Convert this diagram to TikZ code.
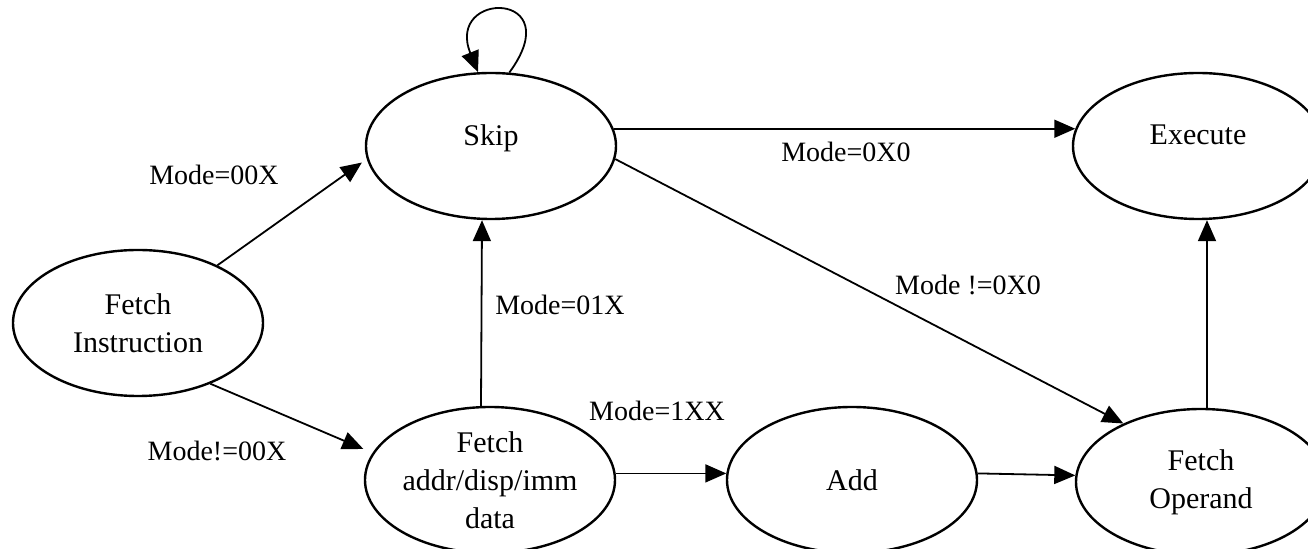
\documentclass[tikz,border=0pt]{standalone}
\usepackage{fontspec}
\setmainfont{Liberation Serif}
\usetikzlibrary{shapes.geometric}
\usetikzlibrary{arrows.meta}

\begin{document}
\begin{tikzpicture}[x=0.5pt, y=-0.5pt,
    state/.style={ellipse, draw=black, line width=1.2pt, minimum width=125pt, minimum height=73pt, inner sep=0pt, align=center, font=\fontsize{15}{19}\selectfont},
    raised/.style={text depth=11pt},
    cond/.style={font=\fontsize{14}{17}\selectfont},
    arr/.style={-{Triangle[length=10.5pt, width=9pt]}, line width=0.9pt}]

    \useasboundingbox (0,0) rectangle (1308,549);

    \node[state] at (138, 323) (fetchins) {Fetch\\Instruction};
    \node[state, raised] at (491, 146) (skip) {Skip};
    \node[state, raised] at (1198, 146) (execute) {Execute};
    \node[state] at (490, 480) (fetchaddr) {Fetch\\addr/disp/imm\\data};
    \node[state] at (852, 480) (add) {Add};
    \node[state] at (1201, 482) (fetchop) {Fetch\\Operand};

    \draw (fetchins.36) edge[arr, shorten >=3pt] (skip.186);
    \draw (fetchins.-40) edge[arr, shorten >=5pt] (fetchaddr.167);
    \draw ([xshift=-4.5pt]fetchaddr.north) edge[arr] ([xshift=-4.5pt]skip.south);
    \draw (skip.8) edge[arr] (execute.172);
    \draw (skip.-6) edge[arr] (fetchop.143);
    \draw (fetchaddr.3) edge[arr] (add.177);
    \draw (add.3) edge[arr] (fetchop.177);
    \draw ([xshift=3pt]fetchop.north) edge[arr] ([xshift=3pt]fetchop.north |- execute.south);

    % self loop on top of skip
    \draw[arr] (skip.76) .. controls (570,-10) and (445,-10) .. (skip.100);

    \node[cond] at (214, 175) (m00) {Mode=00X};
    \node[cond] at (217, 451) (mn00) {Mode!=00X};
    \node[cond] at (560, 305) (m01) {Mode=01X};
    \node[cond] at (657, 411) (m1xx) {Mode=1XX};
    \node[cond] at (846, 152) (m0x0) {Mode=0X0};
    \node[cond] at (968, 285) (mn0x0) {Mode !=0X0};

\end{tikzpicture}
\end{document}
